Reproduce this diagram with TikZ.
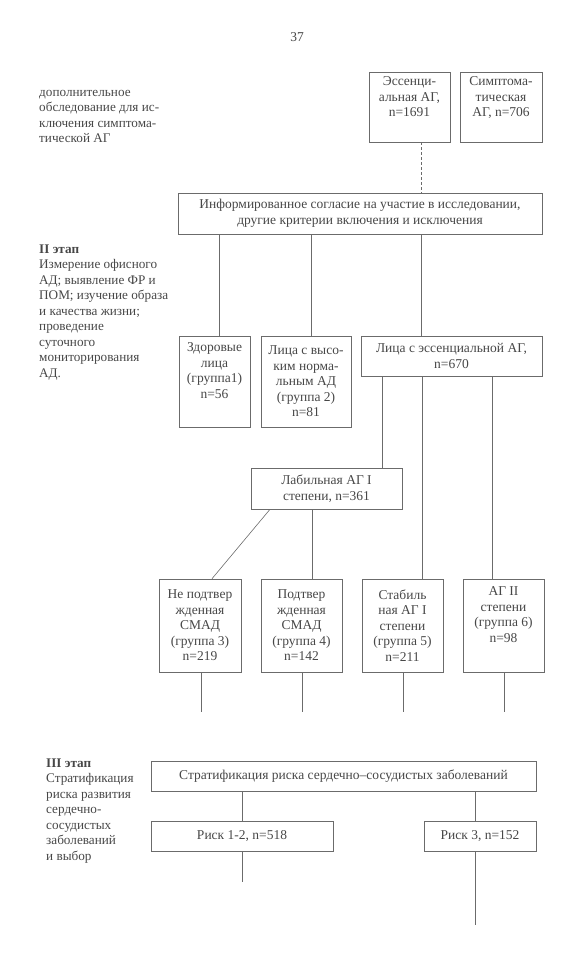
\documentclass[tikz,border=0pt]{standalone}
\usepackage{fontspec}
\setmainfont{Liberation Serif}
\usetikzlibrary{positioning}
\definecolor{inkgray}{gray}{0.28}
\definecolor{linegray}{gray}{0.42}

\begin{document}
\begin{tikzpicture}[x=1pt, y=-1pt]
  % Define styles for boxes, texts and links
  \tikzset{
    box/.style={
      draw=linegray,
      line width=0.6pt,
      align=center,
      inner sep=0pt,
      text=inkgray,
      font=\fontsize{13.5}{15.5}\selectfont
    },
    boxtext/.style={
      align=center,
      inner sep=0pt,
      text=inkgray,
      font=\fontsize{13.5}{15.5}\selectfont
    },
    side/.style={
      align=left,
      anchor=north west,
      inner sep=0pt,
      text=inkgray,
      font=\fontsize{13.2}{15.5}\selectfont
    },
    link/.style={
      draw=linegray,
      line width=0.6pt
    }
  }
  \useasboundingbox (0,0) rectangle (583,960);

  % Page number
  \node[boxtext] (page) at (297,37.5) {37};

  % Side notes for the stages
  \node[side] (note1) at (39,85) {\strut дополнительное\\обследование для ис-\\ключения симптома-\\тической АГ};
  \node[side] (note2) at (39,242) {\strut\textbf{II этап}\\Измерение офисного\\АД; выявление ФР и\\ПОМ; изучение образа\\и качества жизни;\\проведение\\суточного\\мониторирования\\АД.};
  \node[side] (note3) at (46,756) {\strut\textbf{III этап}\\Стратификация\\риска развития\\сердечно-\\сосудистых\\заболеваний\\и выбор};

  % First stage boxes
  \node[box, minimum width=81pt, minimum height=70pt] (ess) at (409.5,107) {};
  \node[boxtext, below=3pt of ess.north] (esstext) {\strut Эссенци-\\альная АГ,\\n=1691};
  \node[box, minimum width=82pt, minimum height=70pt] (symp) at (501,107) {};
  \node[boxtext, below=3pt of symp.north] (symptext) {\strut Симптома-\\тическая\\АГ, n=706};
  \node[box, minimum width=364pt, minimum height=41pt] (cons) at (360,213.5)
    {Информированное согласие на участие в исследовании,\\другие критерии включения и исключения};

  % Second stage groups
  \node[box, minimum width=71pt, minimum height=91pt] (zdor) at (214.5,381.5) {};
  \node[boxtext, below=5pt of zdor.north] (zdortext) {\strut Здоровые\\лица\\(группа1)\\n=56};
  \node[box, minimum width=90pt, minimum height=91pt] (vys) at (306,381.5)
    {Лица с высо-\\ким норма-\\льным АД\\(группа 2)\\n=81};
  \node[box, minimum width=181pt, minimum height=40pt] (esag) at (451.5,356)
    {Лица с эссенциальной АГ,\\n=670};
  \node[box, minimum width=151pt, minimum height=41pt] (lab) at (326.5,488.5)
    {Лабильная АГ I\\степени, n=361};

  % Groups 3 to 6
  \node[box, minimum width=82pt, minimum height=93pt] (nc) at (200,625.5)
    {Не подтвер\\жденная\\СМАД\\(группа 3)\\n=219};
  \node[box, minimum width=81pt, minimum height=93pt] (pc) at (301.5,625.5)
    {Подтвер\\жденная\\СМАД\\(группа 4)\\n=142};
  \node[box, minimum width=81pt, minimum height=93pt] (st) at (402.5,625.5)
    {Стабиль\\ная АГ I\\степени\\(группа 5)\\n=211};
  \node[box, minimum width=81pt, minimum height=93pt] (ag2) at (503.5,625.5) {};
  \node[boxtext, below=6pt of ag2.north] (ag2text) {\strut АГ II\\степени\\(группа 6)\\n=98};

  % Third stage boxes
  \node[box, minimum width=385pt, minimum height=30pt] (strat) at (343.5,776)
    {Стратификация риска сердечно–сосудистых заболеваний};
  \node[box, minimum width=182pt, minimum height=30pt] (r12) at (242,836) {Риск 1-2, n=518};
  \node[box, minimum width=112pt, minimum height=30pt] (r3) at (480,836) {Риск 3, n=152};

  % Dashed link to the consent box
  \draw[link, dash pattern=on 3pt off 2pt] ([xshift=11.5pt]ess.south) -- ([xshift=11.5pt]ess.south |- cons.north);

  % Links from the consent box
  \draw[link] ([xshift=4.5pt]zdor.north |- cons.south) -- ([xshift=4.5pt]zdor.north);
  \draw[link] ([xshift=5pt]vys.north |- cons.south) -- ([xshift=5pt]vys.north);
  \draw[link] ([xshift=-30.5pt]esag.north |- cons.south) -- ([xshift=-30.5pt]esag.north);

  % Links from the essential hypertension box
  \draw[link] ([xshift=55.5pt]lab.north |- esag.south) -- ([xshift=55.5pt]lab.north);
  \draw[link] ([xshift=19.5pt]st.north |- esag.south) -- ([xshift=19.5pt]st.north);
  \draw[link] ([xshift=-11pt]ag2.north |- esag.south) -- ([xshift=-11pt]ag2.north);

  % Links from the labile box
  \draw[link] ([xshift=-56.5pt]lab.south) -- ([xshift=12pt]nc.north);
  \draw[link] ([xshift=10.5pt]pc.north |- lab.south) -- ([xshift=10.5pt]pc.north);

  % Short lines below the groups
  \foreach \g in {nc,pc,st,ag2}
    \draw[link] ([xshift=1pt]\g.south) -- ++(0,40);

  % Links of the risk stratification
  \draw[link] (r12.north |- strat.south) -- (r12.north);
  \draw[link] ([xshift=-5pt]r3.north |- strat.south) -- ([xshift=-5pt]r3.north);
  \draw[link] (r12.south) -- ++(0,31);
  \draw[link] ([xshift=-5pt]r3.south) -- ++(0,74);
\end{tikzpicture}
\end{document}
